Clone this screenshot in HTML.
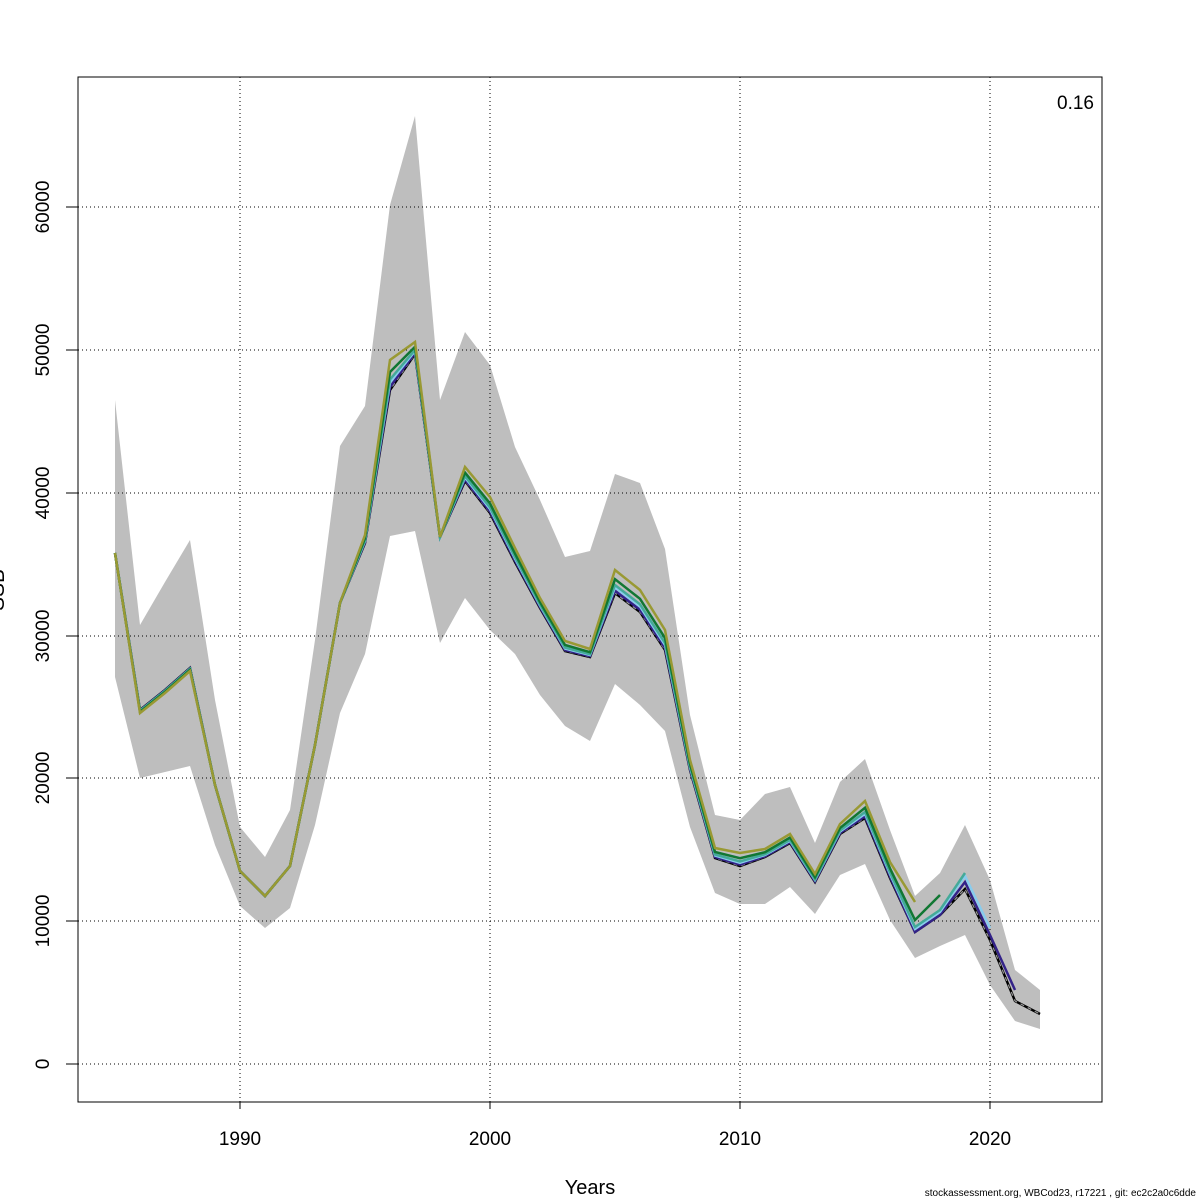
<!DOCTYPE html>
<html><head><meta charset="utf-8"><style>
body{margin:0;background:#fff;}
svg{display:block;font-family:"Liberation Sans",sans-serif;}
</style></head><body>
<svg id="s" width="1200" height="1200" xmlns="http://www.w3.org/2000/svg">
<rect width="1200" height="1200" fill="#fff"/>
<g id="band"></g>
<g stroke="#000" stroke-width="1" stroke-dasharray="1,3" fill="none">
<line x1="240" y1="77" x2="240" y2="1102"/><line x1="490" y1="77" x2="490" y2="1102"/>
<line x1="740" y1="77" x2="740" y2="1102"/><line x1="990" y1="77" x2="990" y2="1102"/>
<line x1="78" y1="1064" x2="1102" y2="1064"/><line x1="78" y1="921" x2="1102" y2="921"/>
<line x1="78" y1="778" x2="1102" y2="778"/><line x1="78" y1="636" x2="1102" y2="636"/>
<line x1="78" y1="493" x2="1102" y2="493"/><line x1="78" y1="350" x2="1102" y2="350"/>
<line x1="78" y1="207" x2="1102" y2="207"/>
</g>
<g id="lines"></g>
<rect x="78" y="77" width="1024" height="1025" fill="none" stroke="#000"/>
<g stroke="#000">
<line x1="240" y1="1102" x2="240" y2="1109"/><line x1="490" y1="1102" x2="490" y2="1109"/>
<line x1="740" y1="1102" x2="740" y2="1109"/><line x1="990" y1="1102" x2="990" y2="1109"/>
<line x1="66" y1="1064" x2="78" y2="1064"/><line x1="66" y1="921" x2="78" y2="921"/>
<line x1="66" y1="778" x2="78" y2="778"/><line x1="66" y1="636" x2="78" y2="636"/>
<line x1="66" y1="493" x2="78" y2="493"/><line x1="66" y1="350" x2="78" y2="350"/>
<line x1="66" y1="207" x2="78" y2="207"/>
</g>
<g font-size="19" text-anchor="middle">
<text x="240" y="1145">1990</text><text x="490" y="1145">2000</text>
<text x="740" y="1145">2010</text><text x="990" y="1145">2020</text>
<g transform="rotate(-90)">
<text x="-1064" y="49">0</text><text x="-921" y="49">10000</text><text x="-778" y="49">20000</text>
<text x="-636" y="49">30000</text><text x="-493" y="49">40000</text><text x="-350" y="49">50000</text>
<text x="-207" y="49">60000</text>
<text x="-590" y="4" font-size="21">SSB</text>
</g>
<text x="590" y="1194" font-size="20">Years</text>
</g>
<text x="1094" y="109" font-size="19" text-anchor="end">0.16</text>
<text x="1196" y="1196" font-size="10" text-anchor="end">stockassessment.org, WBCod23, r17221 , git: ec2c2a0c6dde</text>
</svg>
<script>
var b=[553,710,690,668,785,871,896,866,745,603,543,390,354,537,481,513,562,608,651,657,593,612,650,770,858,866,857,843,882,834,818,878,932,915,889,940,1001,1014];
var up=[400,625,582,540,700,827,857,810,640,446,406,205,116,400,332,365,447,500,557,551,474,483,549,715,815,820,794,787,843,782,759,830,896,873,825,880,970,990];
var lo=[677,778,772,766,845,906,928,908,825,713,654,536,531,643,598,630,654,695,726,741,684,705,731,827,893,904,904,887,914,875,864,920,958,946,935,985,1021,1029];
var d=[0,3,3,3,0,0,0,0,0,0,-8,-30,-12,0,-14,-16,-14,-10,-10,-8,-23,-22,-20,-10,-10,-13,-8,-9,-8,-10,-17,-16,-30,0,0,0,0,0];
function X(i){return 115+i*25;}
var pts=[];for(var i=0;i<38;i++)pts.push(X(i)+","+up[i]);for(var i=37;i>=0;i--)pts.push(X(i)+","+lo[i]);
document.getElementById("band").innerHTML='<polygon points="'+pts.join(" ")+'" fill="#bebebe"/>';
function line(n,f,col,extra){var p=[];for(var i=0;i<n;i++){var y=b[i]+d[i]*f;if(extra&&extra[i]!==undefined)y=extra[i];p.push(X(i)+","+y.toFixed(1));}
return '<polyline points="'+p.join(" ")+'" fill="none" stroke="'+col+'" stroke-width="2.5"/>';}
var h="";
var p=[];for(var i=0;i<38;i++)p.push(X(i)+","+b[i]);
h+='<polyline points="'+p.join(" ")+'" fill="none" stroke="#000" stroke-width="2.5"/>';
h+='<polyline points="'+p.join(" ")+'" fill="none" stroke="#999" stroke-width="1.2" stroke-dasharray="4,4"/>';
h+=line(37,0.1,"#332288",{32:932,33:915,34:882,35:935,36:990});
h+=line(36,0.25,"#88CCEE",{32:929,33:912,34:876,35:928});
h+=line(35,0.35,"#44AA99",{32:927,33:910,34:873});
h+=line(34,0.6,"#117733",{32:920,33:895});
h+=line(33,1,"#999933");
document.getElementById("lines").innerHTML=h;
</script>
</body></html>
